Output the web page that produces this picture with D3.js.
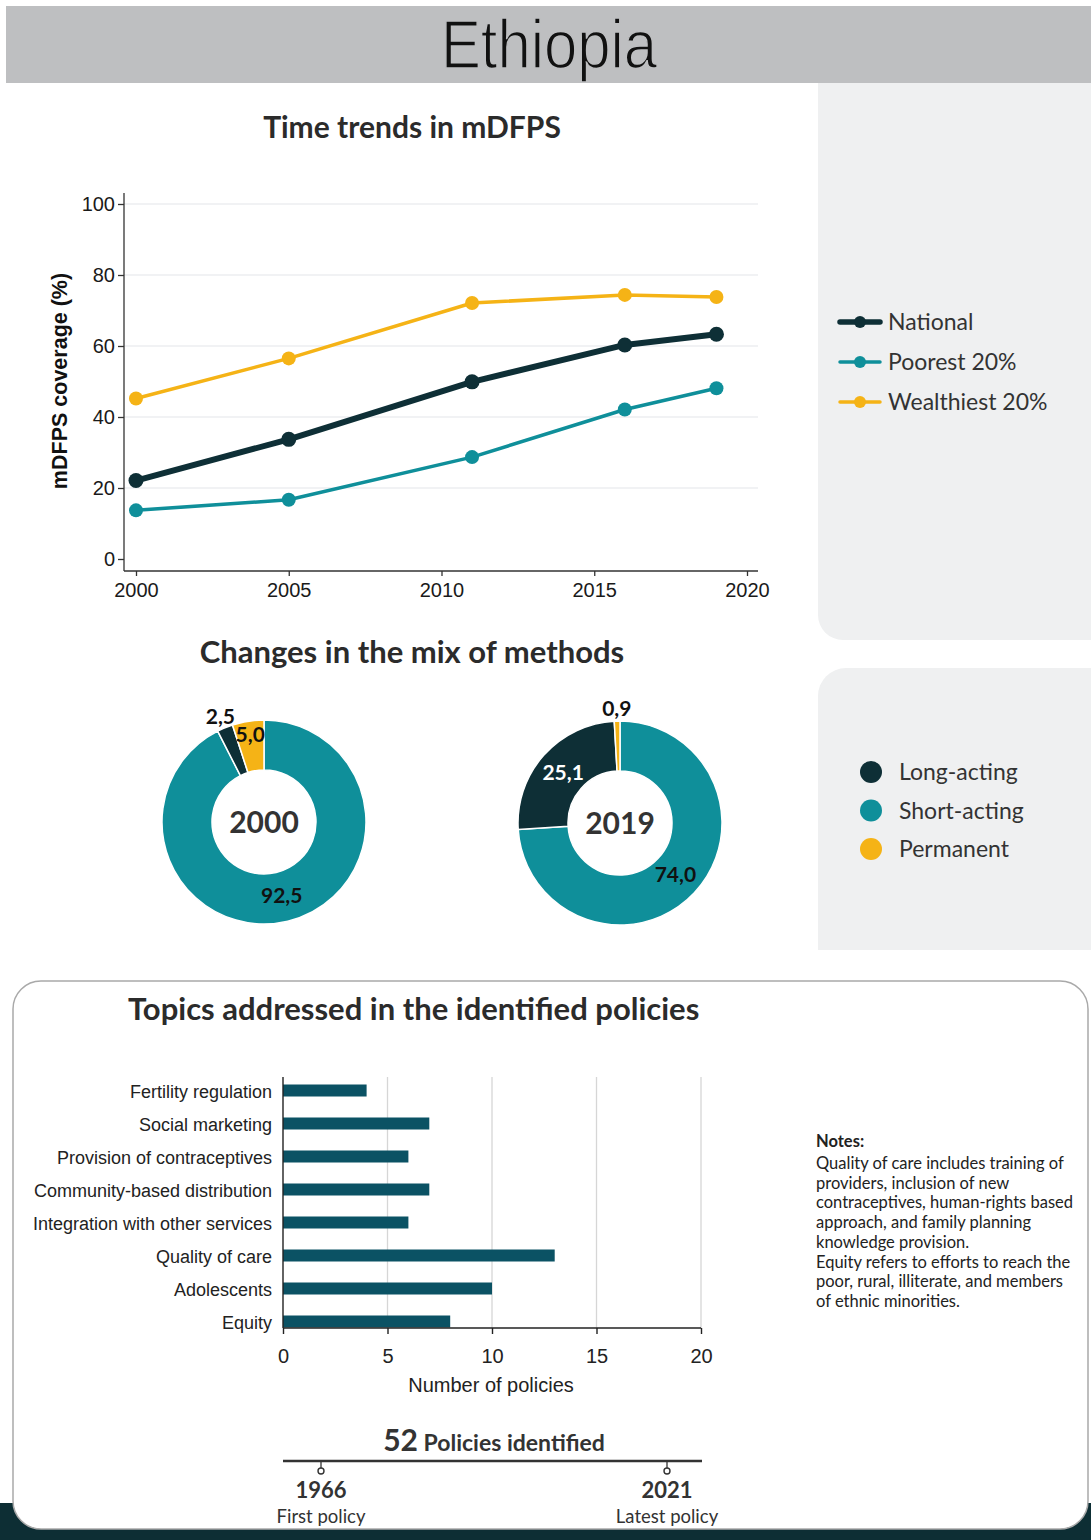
<!DOCTYPE html>
<html>
<head>
<meta charset="utf-8">
<script src="https://cdn.jsdelivr.net/npm/d3@7"></script>
<style>
  html, body { margin: 0; padding: 0; background: #ffffff; }
  svg { display: block; }
  .cal { font-family: Lato, "Open Sans", sans-serif; }
  .hel { font-family: "Liberation Sans", Arial, sans-serif; }
</style>
</head>
<body>
<svg id="chart" width="1091" height="1540"></svg>
<script>
// ---- Data -------------------------------------------------------------
const country = "Ethiopia";

// mDFPS coverage (%) by survey year
const years = [2000, 2005, 2011, 2016, 2019];
const national = [22.1, 33.7, 49.9, 60.3, 63.3];
const poorest = [13.7, 16.7, 28.7, 42.1, 48.1];
const wealthiest = [45.2, 56.5, 72.1, 74.4, 73.8];
const seriesNames = ["National", "Poorest 20%", "Wealthiest 20%"];
const yTicks = [0, 20, 40, 60, 80, 100];
const xTicks = [2000, 2005, 2010, 2015, 2020];

// method mix (%) — order is drawing order, clockwise from 12 o'clock
const methodNames = ["Short-acting", "Long-acting", "Permanent"];
const mixYears = ["2000", "2019"];
const mix2000 = [92.5, 2.5, 5.0];
const mix2019 = [74.0, 25.1, 0.9];
const methodLegend = ["Long-acting", "Short-acting", "Permanent"];

// policy topics
const topics = ["Fertility regulation", "Social marketing", "Provision of contraceptives",
  "Community-based distribution", "Integration with other services", "Quality of care",
  "Adolescents", "Equity"];
const policyCounts = [4, 7, 6, 7, 6, 13, 10, 8];
const countTicks = [0, 5, 10, 15, 20];

const totalPolicies = 52;
const timelineYears = [1966, 2021];
const timelineLabels = ["First policy", "Latest policy"];

const notesTitle = "Notes:";
const notesLines = [
  "Quality of care includes training of",
  "providers, inclusion of new",
  "contraceptives, human-rights based",
  "approach, and family planning",
  "knowledge provision.",
  "Equity refers to efforts to reach the",
  "poor, rural, illiterate, and members",
  "of ethnic minorities."
];

// ---- Colours ------------------------------------------------------------
const C_DARK = "#0e2f36";
const C_TEAL = "#0f8f9a";
const C_GOLD = "#f5b316";
const C_BAR = "#0b5264";
const C_PANEL = "#eff0f1";
const C_TEXT = "#2b2b2b";
const C_HEADER = "#bebfc1";

const seriesColor = { "National": C_DARK, "Poorest 20%": C_TEAL, "Wealthiest 20%": C_GOLD };
const methodColor = { "Long-acting": C_DARK, "Short-acting": C_TEAL, "Permanent": C_GOLD };

const svg = d3.select("#chart");

// ---- Background blocks -------------------------------------------------
svg.append("rect").attr("x", 6).attr("y", 6).attr("width", 1085).attr("height", 77)
  .attr("fill", C_HEADER);
// header title, thinned with a stroke in the band colour for a light look
svg.append("text").attr("class", "hel")
  .attr("transform", "translate(549,68) scale(0.88,1)")
  .attr("text-anchor", "middle")
  .attr("font-size", 68).attr("fill", "#111")
  .attr("stroke", C_HEADER).attr("stroke-width", 1.6)
  .text(country);

// side panels
svg.append("path").attr("fill", C_PANEL)
  .attr("d", "M818,83 H1091 V640 H843 A25,25 0 0 1 818,615 Z");
svg.append("path").attr("fill", C_PANEL)
  .attr("d", "M846,668 H1091 V950 H818 V696 A28,28 0 0 1 846,668 Z");

// bottom band and box
svg.append("rect").attr("x", 0).attr("y", 1503).attr("width", 1091).attr("height", 37)
  .attr("fill", "#0d2e34");
svg.append("rect").attr("x", 13).attr("y", 981).attr("width", 1075).attr("height", 548)
  .attr("rx", 28).attr("ry", 28)
  .attr("fill", "#ffffff").attr("stroke", "#a9a9a9").attr("stroke-width", 1.5);

// ---- Line chart: time trends -------------------------------------------
svg.append("text").attr("class", "cal")
  .attr("x", 412).attr("y", 138).attr("text-anchor", "middle")
  .attr("font-size", 30).attr("font-weight", 700).attr("fill", C_TEXT)
  .text("Time trends in mDFPS");

const x = d3.scaleLinear().domain([2000, 2020]).range([136, 747]);
const y = d3.scaleLinear().domain([0, 100]).range([559, 204]);

const lc = svg.append("g");
// gridlines
lc.selectAll("line.grid").data(yTicks.filter(t => t > 0)).join("line")
  .attr("x1", 124).attr("x2", 758)
  .attr("y1", d => y(d)).attr("y2", d => y(d))
  .attr("stroke", "#eceef0").attr("stroke-width", 1.5);

const yAxis = lc.append("g").attr("transform", "translate(124,0)")
  .call(d3.axisLeft(y).tickValues(yTicks).tickSize(6).tickPadding(3));
yAxis.select(".domain").attr("d", "M0,193V571");
const xAxis = lc.append("g").attr("transform", "translate(0,571)")
  .call(d3.axisBottom(x).tickValues(xTicks).tickFormat(d3.format("d")).tickSize(5).tickPadding(7));
xAxis.select(".domain").attr("d", "M124,0H758");
[yAxis, xAxis].forEach(a => {
  a.selectAll("path, line").attr("stroke", "#333").attr("stroke-width", 1.3);
  a.selectAll("text").attr("font-family", "'Liberation Sans', Arial, sans-serif")
    .attr("font-size", 20).attr("fill", "#1a1a1a");
});

lc.append("text").attr("class", "hel")
  .attr("transform", "translate(67,381) rotate(-90)")
  .attr("text-anchor", "middle")
  .attr("font-size", 21.5).attr("font-weight", 700).attr("fill", "#111")
  .text("mDFPS coverage (%)");

const seriesData = [
  { name: "Wealthiest 20%", values: wealthiest, width: 3.5, r: 7 },
  { name: "Poorest 20%", values: poorest, width: 3.5, r: 7 },
  { name: "National", values: national, width: 6, r: 7.5 }
];
const line = d3.line().x((d, i) => x(years[i])).y(d => y(d));
seriesData.forEach(s => {
  const g = lc.append("g");
  g.append("path").datum(s.values).attr("d", line)
    .attr("fill", "none").attr("stroke", seriesColor[s.name])
    .attr("stroke-width", s.width).attr("stroke-linejoin", "round");
  g.selectAll("circle").data(s.values).join("circle")
    .attr("cx", (d, i) => x(years[i])).attr("cy", d => y(d)).attr("r", s.r)
    .attr("fill", seriesColor[s.name]);
});

// legend
const lg = svg.append("g");
seriesNames.forEach((n, i) => {
  const yy = 322 + i * 40;
  const w = n === "National" ? 5.5 : 3.5;
  lg.append("line").attr("x1", 840).attr("x2", 880).attr("y1", yy).attr("y2", yy)
    .attr("stroke", seriesColor[n]).attr("stroke-width", w).attr("stroke-linecap", "round");
  lg.append("circle").attr("cx", 860).attr("cy", yy).attr("r", 6).attr("fill", seriesColor[n]);
  lg.append("text").attr("class", "cal").attr("x", 888).attr("y", yy)
    .attr("dy", "0.35em").attr("font-size", 23).attr("fill", "#333").text(n);
});

// ---- Donuts: method mix -------------------------------------------------
svg.append("text").attr("class", "cal")
  .attr("x", 412).attr("y", 663).attr("text-anchor", "middle")
  .attr("font-size", 31).attr("font-weight", 700).attr("fill", C_TEXT)
  .text("Changes in the mix of methods");

const fmtComma = d3.formatLocale({ decimal: ",", thousands: ".", grouping: [3], currency: ["", ""] }).format(".1f");
const pie = d3.pie().sort(null).value(d => d.value);
const rOuter = 102, rInner = 52;
const arc = d3.arc().innerRadius(rInner).outerRadius(rOuter);
const donutCenters = [[264, 822], [620, 823]];

[mix2000, mix2019].forEach((mix, k) => {
  const data = methodNames.map((m, i) => ({ method: m, value: mix[i] }));
  const g = svg.append("g").attr("transform", `translate(${donutCenters[k][0]},${donutCenters[k][1]})`);
  const arcs = pie(data);
  g.selectAll("path").data(arcs).join("path")
    .attr("d", arc).attr("fill", d => methodColor[d.data.method])
    .attr("stroke", "#fff").attr("stroke-width", 1.5);
  g.selectAll("text.lab").data(arcs).join("text")
    .attr("class", "cal lab")
    .attr("transform", d => {
      const a = (d.startAngle + d.endAngle) / 2;
      const r = d.data.value < 3 ? 114 : (d.data.value < 10 ? 88 : 76);
      return `translate(${Math.sin(a) * r},${-Math.cos(a) * r})`;
    })
    .attr("text-anchor", "middle").attr("dy", "0.35em")
    .attr("font-size", 21).attr("font-weight", 700)
    .attr("fill", d => (d.data.method === "Long-acting" && d.data.value >= 3) ? "#fff" : "#111")
    .text(d => fmtComma(d.data.value));
  g.append("text").attr("class", "cal")
    .attr("text-anchor", "middle").attr("dy", "0.35em")
    .attr("font-size", 30).attr("font-weight", 700).attr("fill", "#333")
    .text(mixYears[k]);
});

// method legend
methodLegend.forEach((m, i) => {
  const yy = 772 + i * 38.5;
  svg.append("circle").attr("cx", 871).attr("cy", yy).attr("r", 11).attr("fill", methodColor[m]);
  svg.append("text").attr("class", "cal").attr("x", 899).attr("y", yy).attr("dy", "0.35em")
    .attr("font-size", 23).attr("fill", "#333").text(m);
});

// ---- Bar chart: policy topics -------------------------------------------
svg.append("text").attr("class", "cal")
  .attr("x", 128).attr("y", 1020)
  .attr("font-size", 31).attr("font-weight", 700).attr("fill", C_TEXT)
  .text("Topics addressed in the identified policies");

const bx = d3.scaleLinear().domain([0, 20]).range([283, 701]);
const by = d3.scaleBand().domain(topics).range([1074, 1338]);
const barH = 12;

const bc = svg.append("g");
bc.selectAll("line.vgrid").data(countTicks.filter(t => t > 0)).join("line")
  .attr("x1", d => bx(d)).attr("x2", d => bx(d)).attr("y1", 1077).attr("y2", 1328)
  .attr("stroke", "#d6d6d6").attr("stroke-width", 1.3);

bc.selectAll("rect.bar").data(topics).join("rect")
  .attr("x", bx(0)).attr("width", (d, i) => bx(policyCounts[i]) - bx(0))
  .attr("y", d => by(d) + by.bandwidth() / 2 - barH / 2).attr("height", barH)
  .attr("fill", C_BAR);

bc.selectAll("text.cat").data(topics).join("text")
  .attr("class", "hel")
  .attr("x", 272).attr("y", d => by(d) + by.bandwidth() / 2 + 1).attr("dy", "0.35em")
  .attr("text-anchor", "end").attr("font-size", 18).attr("fill", "#222")
  .text(d => d);

const bxAxis = bc.append("g").attr("transform", "translate(0,1328)")
  .call(d3.axisBottom(bx).tickValues(countTicks).tickSize(6).tickPadding(15));
bxAxis.select(".domain").attr("d", "M283,0H701");
bxAxis.selectAll("path, line").attr("stroke", "#222").attr("stroke-width", 1.4);
bxAxis.selectAll("text").attr("font-family", "'Liberation Sans', Arial, sans-serif")
  .attr("font-size", 20).attr("fill", "#222");
bc.append("line").attr("x1", 283).attr("x2", 283).attr("y1", 1077).attr("y2", 1328)
  .attr("stroke", "#222").attr("stroke-width", 1.4);
bc.append("text").attr("class", "hel")
  .attr("x", 491).attr("y", 1392).attr("text-anchor", "middle")
  .attr("font-size", 20).attr("fill", "#222").text("Number of policies");

// notes
const notes = svg.append("text").attr("class", "cal").attr("fill", "#222").attr("font-size", 16.5);
notes.append("tspan").attr("x", 816).attr("y", 1147).attr("font-weight", 700).text(notesTitle);
notesLines.forEach((t, i) => {
  notes.append("tspan").attr("x", 816).attr("y", 1169 + i * 19.7).text(t);
});

// ---- Timeline ----------------------------------------------------------------
const tl = svg.append("g");
const tx = d3.scaleLinear().domain(timelineYears).range([321, 667]);
const head = tl.append("text").attr("class", "cal").attr("x", 494).attr("y", 1451)
  .attr("text-anchor", "middle").attr("fill", "#333").attr("font-weight", 700);
head.append("tspan").attr("font-size", 30).text(totalPolicies);
head.append("tspan").attr("font-size", 23).text(" Policies identified");

tl.append("line").attr("x1", 283).attr("x2", 702).attr("y1", 1461).attr("y2", 1461)
  .attr("stroke", "#333").attr("stroke-width", 2.5);
timelineYears.forEach((yr, i) => {
  const xx = tx(yr);
  tl.append("line").attr("x1", xx).attr("x2", xx).attr("y1", 1461).attr("y2", 1468)
    .attr("stroke", "#333").attr("stroke-width", 1.3);
  tl.append("circle").attr("cx", xx).attr("cy", 1471).attr("r", 3)
    .attr("fill", "#fff").attr("stroke", "#333").attr("stroke-width", 1.4);
  tl.append("text").attr("class", "cal").attr("x", xx).attr("y", 1498)
    .attr("text-anchor", "middle").attr("font-size", 22).attr("font-weight", 700)
    .attr("fill", "#333").text(yr);
  tl.append("text").attr("class", "cal").attr("x", xx).attr("y", 1523)
    .attr("text-anchor", "middle").attr("font-size", 18.5)
    .attr("fill", "#333").text(timelineLabels[i]);
});
</script>
</body>
</html>
